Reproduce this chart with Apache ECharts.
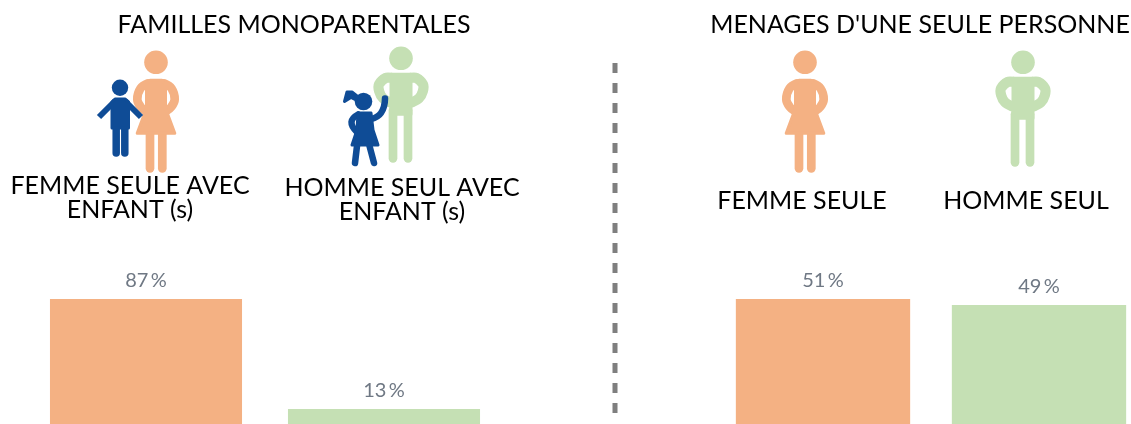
<!DOCTYPE html>
<html><head><meta charset="utf-8">
<style>html,body{margin:0;padding:0;background:#fff;overflow:hidden}#c{width:1131px;height:424px}</style>
<script src="https://cdn.jsdelivr.net/npm/echarts@6/dist/echarts.min.js"></script>
</head><body><div id="c"></div>
<script>
const groupTitles = ['FAMILLES MONOPARENTALES', "MENAGES D'UNE SEULE PERSONNE"];
const familyCategories = ['FEMME SEULE AVEC\nENFANT (s)', 'HOMME SEUL AVEC\nENFANT (s)'];
const singleCategories = ['FEMME SEULE', 'HOMME SEUL'];
const familyValues = [87, 13];
const singleValues = [51, 49];
const ORANGE = '#F4B183', GREEN = '#C5E0B4', BLUE = '#0F4C96', GREY = '#7F7F7F';
const barColors = [ORANGE, GREEN];

function line(points, color, w, smooth) {
  return {type: 'polyline', shape: {points, smooth: smooth || 0},
    style: {fill: null, stroke: color, lineWidth: w, lineCap: 'round', lineJoin: 'round'}};
}
function poly(points, color) {
  return {type: 'polygon', shape: {points},
    style: {fill: color, stroke: color, lineWidth: 3, lineJoin: 'round'}};
}
function woman(x, y) {
  const c = ORANGE;
  return {type: 'group', x, y, children: [
    {type: 'circle', shape: {cx: 0, cy: 0, r: 11.8}, style: {fill: c}},
    line([[-6, 106], [-6, 66]], c, 8.7),
    line([[6.3, 106], [6.3, 66]], c, 8.7),
    line([[-8, 21], [-15.5, 26], [-18.7, 37], [-15, 45], [-10, 49]], c, 8.7, 0.4),
    line([[8, 21], [15.5, 26], [18.7, 37], [15, 45], [10, 49]], c, 8.7, 0.4),
    poly([[-6, 18], [6, 18], [9.5, 22], [9.5, 46], [18.8, 71], [-18.8, 71], [-9.5, 46], [-9.5, 22]], c)
  ]};
}
function man(x, y) {
  const c = GREEN;
  return {type: 'group', x, y, children: [
    {type: 'circle', shape: {cx: 0, cy: 0, r: 11.8}, style: {fill: c}},
    line([[-8, 100], [-8, 52]], c, 8.7),
    line([[7, 100], [7, 52]], c, 8.7),
    line([[-10, 19.5], [-15, 19.5], [-22, 26], [-21.8, 33], [-18, 40], [-11, 44]], c, 10.2, 0.3),
    line([[10, 19.5], [15, 19.5], [22, 26], [21.8, 33], [18, 40], [11, 44]], c, 10.2, 0.3),
    poly([[-10, 16], [10, 16], [10, 56], [-10, 56]], c)
  ]};
}
function boy() {
  const c = BLUE;
  return {type: 'group', children: [
    {type: 'circle', shape: {cx: 120, cy: 87.7, r: 8.2}, style: {fill: c}},
    line([[116.2, 153], [116.2, 126]], c, 7.5),
    line([[124.8, 153], [124.8, 126]], c, 7.5),
    {type: 'polyline', shape: {points: [[115, 101], [99, 117]]}, style: {fill: null, stroke: c, lineWidth: 6}},
    {type: 'polyline', shape: {points: [[125, 101], [141, 117]]}, style: {fill: null, stroke: c, lineWidth: 6}},
    poly([[115, 99], [125, 99], [128.5, 102], [128.5, 128], [112, 128], [112, 102]], c)
  ]};
}
function girl() {
  const c = BLUE;
  return {type: 'group', children: [
    {type: 'circle', shape: {cx: 363.5, cy: 101.5, r: 8.8}, style: {fill: c}},
    poly([[347, 92], [352, 92], [357, 96], [356, 100], [351, 97.5], [344.5, 101.5]], c),
    line([[357, 146], [355, 163]], c, 6.5),
    line([[369.5, 146], [374, 163]], c, 6.5),
    line([[358, 114.5], [351.5, 122], [357, 132]], c, 6.5, 0.5),
    line([[371, 119], [381, 113], [385, 98.5]], c, 6.5, 0.5),
    poly([[358, 113], [371, 113], [373, 130], [378, 145], [352, 145], [357, 130]], c)
  ]};
}
function text(str, x, y) {
  return {type: 'text', x, y, style: {text: str, font: '25px Lato', fill: '#000',
    textAlign: 'center', textVerticalAlign: 'middle', lineHeight: 24}};
}
function barSeries(idx, vals) {
  return {type: 'bar', xAxisIndex: idx, yAxisIndex: idx, barCategoryGap: '19.3%',
    data: vals.map((v, i) => ({value: v, itemStyle: {color: barColors[i]}})),
    label: {show: true, position: 'top', distance: 8, formatter: '{c}\u2009%',
      fontFamily: 'Lato', fontSize: 20, color: '#6F7884'}};
}
const chart = echarts.init(document.getElementById('c'), null, {renderer: 'canvas'});
chart.setOption({
  animation: false,
  grid: [
    {left: 27, top: 279.7, width: 476, height: 148.6, outerBoundsMode: 'none'},
    {left: 715, top: 272, width: 432, height: 180, outerBoundsMode: 'none'}
  ],
  xAxis: [
    {type: 'category', gridIndex: 0, data: familyCategories, show: false},
    {type: 'category', gridIndex: 1, data: singleCategories, show: false}
  ],
  yAxis: [
    {type: 'value', gridIndex: 0, min: 0, max: 100, show: false},
    {type: 'value', gridIndex: 1, min: 0, max: 60, show: false}
  ],
  series: [barSeries(0, familyValues), barSeries(1, singleValues)],
  graphic: {elements: [
    {type: 'line', shape: {x1: 615, y1: 63, x2: 615, y2: 416},
      style: {stroke: GREY, lineWidth: 5, lineDash: [10, 10]}},
    woman(156, 62.3), man(401, 58.3), woman(805, 62.3), man(1023, 62.3),
    boy(), girl(),
    text(groupTitles[0], 294, 25), text(groupTitles[1], 920, 25),
    text(familyCategories[0], 130, 197.5), text(familyCategories[1], 402, 199.5),
    text(singleCategories[0], 802, 200.5), text(singleCategories[1], 1026, 200.5)
  ]}
});
</script></body></html>
